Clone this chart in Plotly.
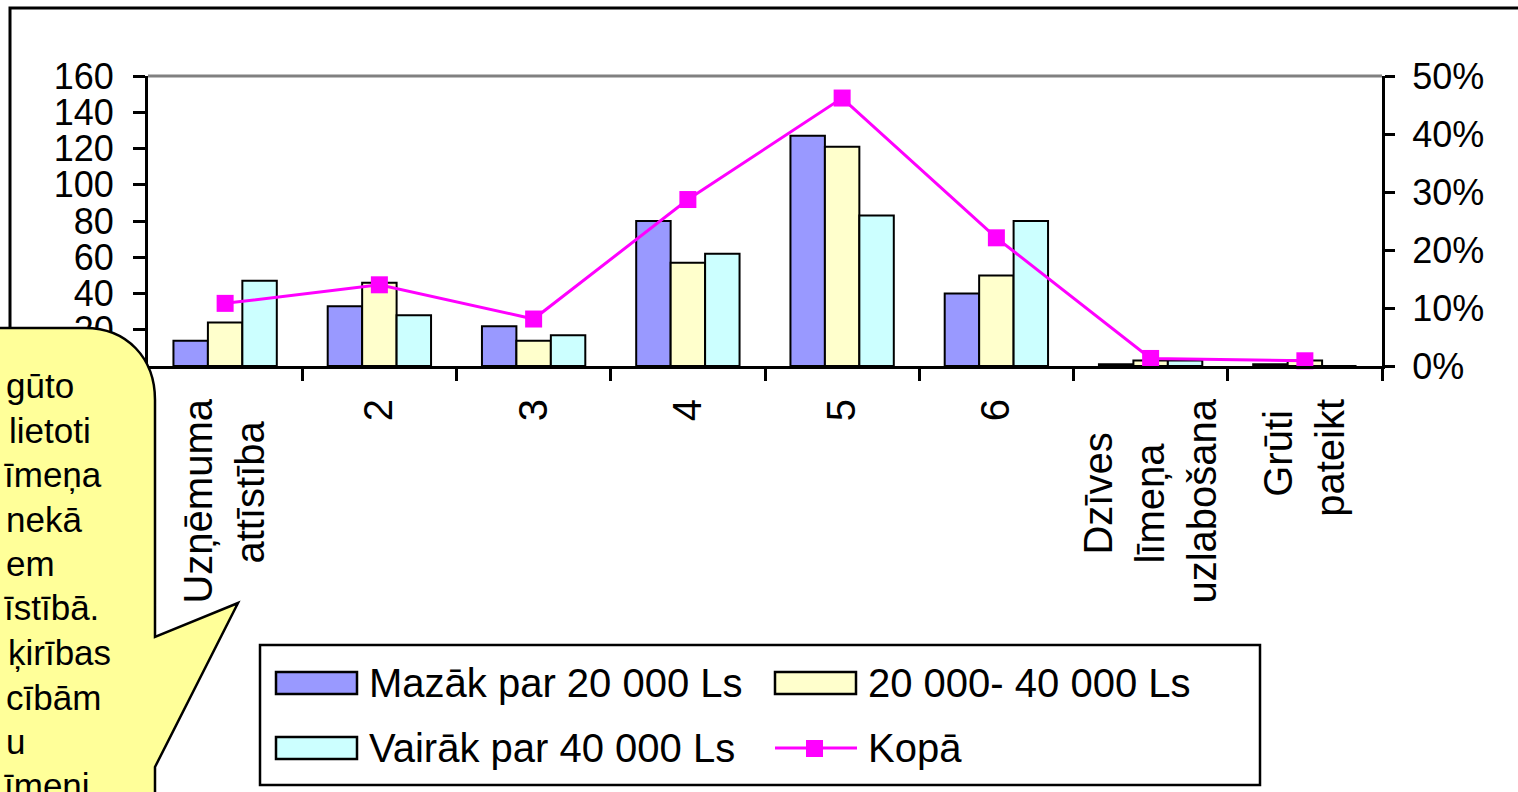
import plotly.graph_objects as go

# ---------------- data ----------------
NB = "\u00a0"
categories = ["Uzņēmuma<br>attīstība" + NB * 2, "2", "3", "4", "5", "6",
              "Dzīves" + NB * 3 + "<br>līmeņa" + NB * 4 + "<br>uzlabošana",
              "Grūti" + NB + "<br>pateikt"]
series_names = ["Mazāk par 20 000 Ls", "20 000- 40 000 Ls", "Vairāk par 40 000 Ls"]
mazak_20 = [14, 33, 22, 80, 127, 40, 1, 1]
no20_lidz40 = [24, 46, 14, 57, 121, 50, 3, 3]
vairak_40 = [47, 28, 17, 62, 83, 80, 3, 0]
total_name = "Kopā"
kopa = [0.108, 0.140, 0.081, 0.287, 0.462, 0.221, 0.013, 0.009]

left_ticks = [0, 20, 40, 60, 80, 100, 120, 140, 160]
right_ticks = [0, 0.1, 0.2, 0.3, 0.4, 0.5]

callout_lines = ["gūto", "lietoti", "īmeņa", "nekā", "em", "īstībā.",
                 "ķirības", "cībām", "u", "īmeni"]

# ---------------- geometry helpers ----------------
W, H = 1518, 792
L, R, T, B = 148, 136, 76, 426
PW, PH = W - L - R, H - T - B


def px(x):
    return (x - L) / PW


def py(y):
    return (H - B - y) / PH


colors = ["#9999FF", "#FFFFCC", "#CCFFFF"]
magenta = "#FF00FF"
font_family = "Liberation Sans, Arial, sans-serif"

fig = go.Figure()
for name, vals, col in zip(series_names, [mazak_20, no20_lidz40, vairak_40], colors):
    fig.add_trace(go.Bar(x=categories, y=vals, name=name,
                         marker=dict(color=col, line=dict(color="black", width=2)),
                         showlegend=False))

fig.add_trace(go.Scatter(x=categories, y=kopa, name=total_name, yaxis="y2",
                         mode="lines+markers",
                         line=dict(color=magenta, width=3),
                         marker=dict(symbol="square", size=17, color=magenta),
                         showlegend=False, cliponaxis=False))

shapes = []
annotations = []

# outer chart frame
shapes.append(dict(type="rect", xref="paper", yref="paper",
                   x0=px(10), x1=px(1540), y0=py(8), y1=py(820),
                   line=dict(color="black", width=3), layer="below"))
# top border of plot area (grey)
shapes.append(dict(type="line", xref="paper", yref="paper",
                   x0=0, x1=1, y0=1, y1=1,
                   line=dict(color="#808080", width=3)))

# callout bubble
pts = [("M", -20, 328), ("L", 85, 328), ("C", 127, 328, 155, 358, 155, 400),
       ("L", 155, 637), ("L", 238, 603), ("L", 155, 767), ("L", 155, 830),
       ("L", -20, 830)]
path = ""
for p in pts:
    cmd = p[0]
    coords = p[1:]
    seg = []
    for i in range(0, len(coords), 2):
        seg.append(f"{px(coords[i]):.5f},{py(coords[i + 1]):.5f}")
    path += cmd + " " + " ".join(seg) + " "
path += "Z"
shapes.append(dict(type="path", xref="paper", yref="paper", path=path,
                   fillcolor="#FFFF99", line=dict(color="black", width=2.5),
                   layer="above"))

line_y = [385, 430, 474, 519, 563, 607, 652, 697, 741, 785]
line_x = [4, 7, 2, 4, 4, 2, 6, 4, 4, 2]
for txt, yy, xx in zip(callout_lines, line_y, line_x):
    annotations.append(dict(xref="paper", yref="paper", x=px(xx), y=py(yy),
                            xanchor="left", yanchor="middle", text=txt,
                            showarrow=False,
                            font=dict(size=35, color="black", family=font_family)))

# custom legend
shapes.append(dict(type="rect", xref="paper", yref="paper",
                   x0=px(260), x1=px(1260), y0=py(645), y1=py(785),
                   line=dict(color="black", width=2.5), fillcolor="white"))
legend_items = [(series_names[0], colors[0], 276, 683),
                (series_names[1], colors[1], 775, 683),
                (series_names[2], colors[2], 276, 748)]
for name, col, x0, yc in legend_items:
    shapes.append(dict(type="rect", xref="paper", yref="paper",
                       x0=px(x0), x1=px(x0 + 81), y0=py(yc - 11), y1=py(yc + 11),
                       fillcolor=col, line=dict(color="black", width=2.5)))
    annotations.append(dict(xref="paper", yref="paper", x=px(x0 + 91), y=py(yc),
                            xanchor="left", yanchor="middle", text=name,
                            showarrow=False,
                            font=dict(size=40, color="black", family=font_family)))
shapes.append(dict(type="line", xref="paper", yref="paper",
                   x0=px(775), x1=px(857), y0=py(748), y1=py(748),
                   line=dict(color=magenta, width=3)))
shapes.append(dict(type="rect", xref="paper", yref="paper",
                   x0=px(806), x1=px(823), y0=py(740), y1=py(757),
                   fillcolor=magenta, line=dict(color=magenta, width=0)))
annotations.append(dict(xref="paper", yref="paper", x=px(866), y=py(748),
                        xanchor="left", yanchor="middle", text=total_name,
                        showarrow=False,
                        font=dict(size=40, color="black", family=font_family)))

fig.update_layout(
    width=W, height=H,
    margin=dict(l=L, r=R, t=T, b=B, pad=0),
    paper_bgcolor="white", plot_bgcolor="white",
    barmode="group", bargap=0.33, bargroupgap=0,
    font=dict(family=font_family, color="black", size=36),
    showlegend=False,
    shapes=shapes, annotations=annotations,
    xaxis=dict(type="category", showline=True, linecolor="black", linewidth=3,
               ticks="outside", ticklen=12, tickwidth=3, tickcolor="black",
               tickson="boundaries", tickangle=-90, ticklabelstandoff=14,
               tickfont=dict(size=40), showgrid=False, zeroline=False),
    yaxis=dict(range=[0, 160], tickvals=left_ticks, showline=True,
               linecolor="black", linewidth=3, ticks="outside", ticklen=12,
               tickwidth=3, tickcolor="black", showgrid=False, zeroline=False,
               ticklabelstandoff=12, tickfont=dict(size=36)),
    yaxis2=dict(range=[0, 0.5], tickvals=right_ticks, tickformat=".0%",
                overlaying="y", side="right", showline=True, linecolor="black",
                linewidth=3, ticks="outside", ticklen=10, tickwidth=3,
                tickcolor="black", showgrid=False, zeroline=False,
                ticklabelstandoff=10, tickfont=dict(size=36)),
)

fig.write_html("out.html", config={"displayModeBar": False},
               post_script="document.body.style.margin='0';")
